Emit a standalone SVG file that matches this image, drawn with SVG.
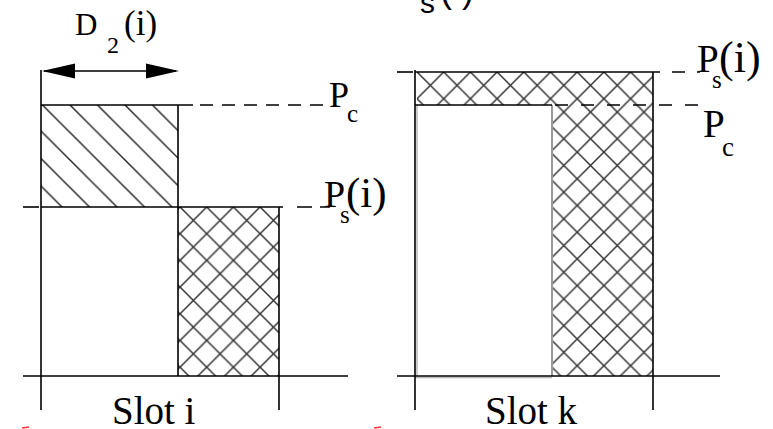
<svg xmlns="http://www.w3.org/2000/svg" width="773" height="429" viewBox="0 0 773 429">
<style>
.ln{stroke:#000;stroke-width:1.6;fill:none}
.dash{stroke:#000;stroke-width:1.6;fill:none;stroke-dasharray:13 9}
.gray{stroke:#999;stroke-width:2;fill:none}
.lite{stroke:#bbb;stroke-width:1.5;fill:none}
.serif{font-family:"Liberation Serif","Times New Roman",serif}
text{fill:#000}
</style>
<defs>
<pattern id="diag" patternUnits="userSpaceOnUse" x="42.5" y="105" width="27.5" height="27.5">
<path d="M0,0 L27.5,27.5 M-3,24.5 L3,30.5 M24.5,-3 L30.5,3" stroke="#222" stroke-width="1.4"/>
</pattern>
<pattern id="cross" patternUnits="userSpaceOnUse" x="180" y="207" width="26.7" height="26.7">
<path d="M0,0 L26.7,26.7 M0,26.7 L26.7,0 M-3,23.7 L3,29.7 M23.7,-3 L29.7,3 M-3,3 L3,-3 M23.7,29.7 L29.7,23.7" stroke="#333" stroke-width="1.5"/>
</pattern>
<pattern id="cross2" patternUnits="userSpaceOnUse" x="417" y="72" width="26.7" height="26.7">
<path d="M0,0 L26.7,26.7 M0,26.7 L26.7,0 M-3,23.7 L3,29.7 M23.7,-3 L29.7,3 M-3,3 L3,-3 M23.7,29.7 L29.7,23.7" stroke="#333" stroke-width="1.5"/>
</pattern>
</defs>
<rect width="773" height="429" fill="#fff"/>

<g id="top-fragment" font-family="Liberation Sans, Arial, sans-serif">
<text x="420" y="13" font-size="30">s</text>
<text x="440" y="2" font-size="36" xml:space="preserve">( )</text>
</g>

<g id="slot-i">
<rect x="41" y="105" width="137" height="102" fill="url(#diag)"/>
<rect x="178" y="207" width="101" height="169" fill="url(#cross)"/>
<line class="ln" x1="41" y1="70" x2="41" y2="410"/>
<line class="ln" x1="279" y1="207" x2="279" y2="410"/>
<line class="ln" x1="178" y1="105" x2="178" y2="376"/>
<line class="ln" x1="23" y1="376" x2="348" y2="376"/>
<line class="ln" x1="41" y1="105" x2="193" y2="105"/>
<line class="ln" x1="41" y1="207" x2="283" y2="207"/>
<text class="serif" x="112" y="424" font-size="39">Slot i</text>
</g>

<g id="slot-k">
<rect x="417" y="72" width="236" height="33" fill="url(#cross2)"/>
<rect x="552" y="105" width="101" height="271" fill="url(#cross2)"/>
<line class="lite" x1="417" y1="105" x2="417" y2="376"/>
<line class="lite" x1="415" y1="377.5" x2="552" y2="377.5"/>
<line class="ln" x1="415" y1="70" x2="415" y2="410"/>
<line class="ln" x1="653" y1="72" x2="653" y2="410"/>
<line class="gray" x1="552" y1="105" x2="552" y2="376"/>
<line class="ln" x1="397" y1="376" x2="720" y2="376"/>
<line class="ln" x1="415" y1="72" x2="660" y2="72"/>
<line class="ln" x1="415" y1="105" x2="552" y2="105"/>
<text class="serif" x="485" y="424" font-size="39">Slot k</text>
</g>

<g id="label-D2" class="serif">
<text x="75" y="35" font-size="31">D</text>
<text x="107" y="53" font-size="24">2</text>
<text x="124" y="35" font-size="35">(i)</text>
</g>

<g id="label-Pc-left" class="serif">
<text x="329" y="107" font-size="36">P</text>
<text x="347" y="122" font-size="25">c</text>
</g>
<g id="label-Ps-left" class="serif">
<text x="324" y="207" font-size="38">P</text>
<text x="340" y="223" font-size="25">s</text>
<text x="346" y="207" font-size="43">(i)</text>
</g>
<g id="label-Ps-right" class="serif">
<text x="697" y="72" font-size="39">P</text>
<text x="712" y="88" font-size="25">s</text>
<text x="719" y="72" font-size="44">(i)</text>
</g>
<g id="label-Pc-right" class="serif">
<text x="703" y="137" font-size="39">P</text>
<text x="722" y="156" font-size="27">c</text>
</g>

<g id="connectors">
<line class="ln" x1="44" y1="71" x2="176" y2="71"/>
<polygon points="42,71 75,63.5 75,78.5" fill="#000"/>
<polygon points="179,71 146,63.5 146,78.5" fill="#000"/>
<line class="dash" x1="200" y1="105" x2="330" y2="105"/>
<line x1="23" y1="207" x2="39" y2="207" class="ln"/>
<line class="dash" x1="297" y1="207" x2="330" y2="207" style="stroke-dasharray:15 8"/>
<line x1="397" y1="72" x2="413" y2="72" class="ln"/>
<line class="dash" x1="672" y1="72" x2="700" y2="72" style="stroke-dasharray:13 12"/>
<line class="dash" x1="555" y1="105" x2="700" y2="105" style="stroke-dasharray:13 13"/>
<path d="M22,428 L29,427" stroke="#f33" stroke-width="1.5" fill="none"/>
<path d="M374,428 L381,427" stroke="#f33" stroke-width="1.5" fill="none"/>
</g>
</svg>
